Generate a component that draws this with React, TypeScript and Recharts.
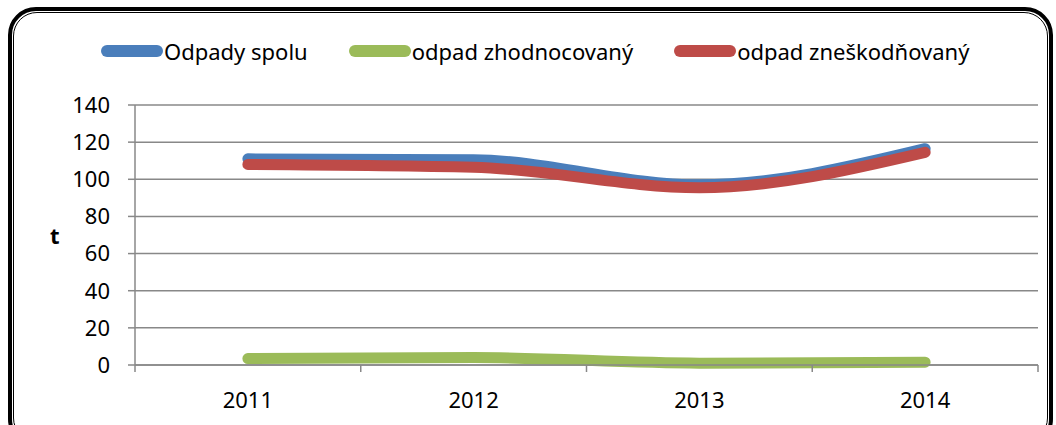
import React from 'react';
import { LineChart, Line, XAxis, YAxis, CartesianGrid } from 'recharts';

const years = ['2011', '2012', '2013', '2014'];
const odpadySpolu = [111, 110.5, 97, 116.5];
const zhodnocovany = [3.5, 4, 1, 1.5];
const zneskodnovany = [108, 106.5, 95.5, 114.5];
const yTicks = [0, 20, 40, 60, 80, 100, 120, 140];

const SERIES = [
    { key: 'spolu', name: 'Odpady spolu', color: '#4A7EBB' },
    { key: 'zhod', name: 'odpad zhodnocovaný', color: '#9BBB59' },
    { key: 'znes', name: 'odpad zneškodňovaný', color: '#BE4B48' },
];

const FONT = '"Noto Sans", sans-serif';

// points sit in the middle of each year band, ticks on the band edges
const data = years.map((y, i) => ({
    x: i + 0.5,
    year: y,
    spolu: odpadySpolu[i],
    zhod: zhodnocovany[i],
    znes: zneskodnovany[i],
}));

const xTicks = [0, 0.5, 1, 1.5, 2, 2.5, 3, 3.5, 4];

const XTick = ({ x, y, payload }: any) => {
    const v = payload.value;
    if (Number.isInteger(v)) {
        return <line x1={x} y1={y} x2={x} y2={y + 7} stroke="#888" strokeWidth={1.5} />;
    }
    return (
        <text x={x} y={y + 43} textAnchor="middle" fontSize={22} fontFamily={FONT} fill="#000">
            {years[Math.floor(v)]}
        </text>
    );
};

const ChartLegend = () => (
    <div style={{
        position: 'absolute', top: 36, left: 101, display: 'flex', gap: 41,
        fontFamily: FONT, fontSize: 22, whiteSpace: 'nowrap',
    }}>
        {SERIES.map(s => (
            <div key={s.key} style={{ display: 'flex', alignItems: 'center' }}>
                <div style={{ width: 62, height: 12, borderRadius: 6, background: s.color, marginRight: 1 }} />
                <span>{s.name}</span>
            </div>
        ))}
    </div>
);

const App: React.FC = () => {
    return (
        <div style={{ position: 'absolute', left: 0, top: 0, width: 1056, height: 425, overflow: 'hidden', background: '#fff' }}>
            <div style={{
                position: 'absolute', left: 8, top: 7, width: 1045, height: 440,
                border: '4px solid #000', borderRadius: 28, boxSizing: 'border-box',
            }}>
                <div style={{
                    position: 'absolute', left: 1, top: 1, right: 1, bottom: 1,
                    border: '1.5px solid #000', borderRadius: 24,
                }} />
            </div>
            <div style={{ position: 'absolute', left: 50, top: 220, fontFamily: FONT, fontSize: 22, fontWeight: 'bold' }}>t</div>
            <ChartLegend />
            <div style={{ position: 'absolute', left: 0, top: 0 }}>
                <LineChart width={1056} height={425} data={data} margin={{ top: 105, right: 18, bottom: 10, left: 65 }}>
                    <CartesianGrid vertical={false} stroke="#888" strokeWidth={1.5} />
                    <XAxis
                        dataKey="x"
                        type="number"
                        domain={[0, 4]}
                        ticks={xTicks}
                        interval={0}
                        tick={<XTick />}
                        tickLine={false}
                        tickSize={0}
                        tickMargin={0}
                        stroke="#888"
                        strokeWidth={1.5}
                        height={50}
                    />
                    <YAxis
                        domain={[0, 140]}
                        ticks={yTicks}
                        interval={0}
                        width={70}
                        tickSize={7}
                        tickMargin={18}
                        stroke="#888"
                        strokeWidth={1.5}
                        tick={{ fill: '#000', fontSize: 22, fontFamily: FONT }}
                    />
                    {SERIES.map(s => (
                        <Line
                            key={s.key}
                            dataKey={s.key}
                            name={s.name}
                            type="monotone"
                            stroke={s.color}
                            strokeWidth={11}
                            strokeLinecap="round"
                            dot={false}
                            activeDot={false}
                            isAnimationActive={false}
                        />
                    ))}
                </LineChart>
            </div>
        </div>
    );
};

export default App;
